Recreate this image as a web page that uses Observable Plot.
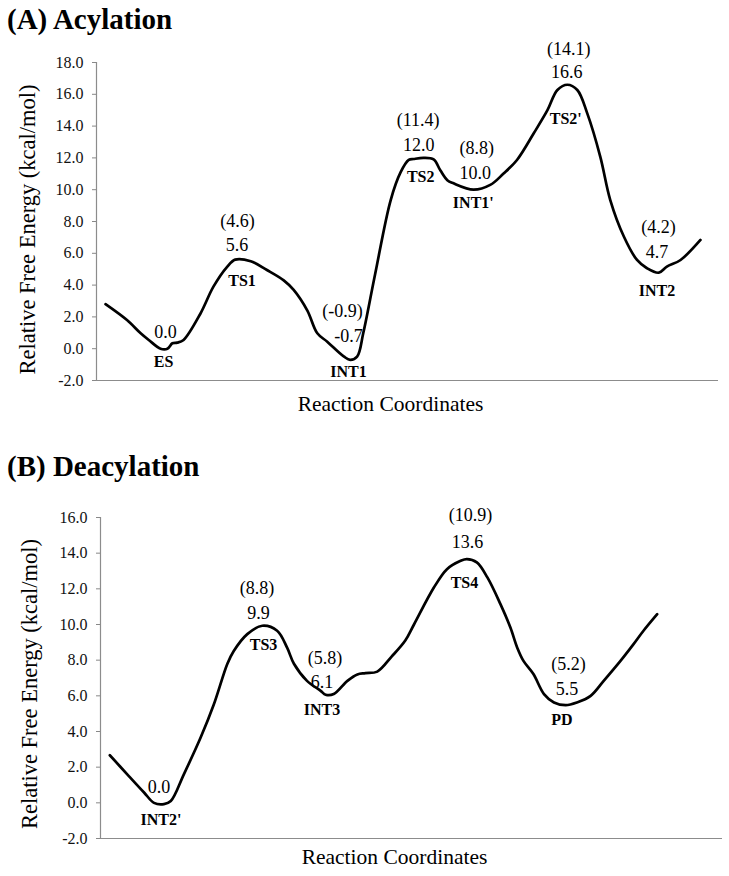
<!DOCTYPE html>
<html><head><meta charset="utf-8">
<script src="https://cdn.jsdelivr.net/npm/d3@7"></script>
<script src="https://cdn.jsdelivr.net/npm/@observablehq/plot@0.6"></script>
<style>
body{margin:0;background:#fff;}
#wrap{position:relative;width:729px;height:876px;font-family:"Liberation Serif","Times New Roman",Times,serif;color:#000;overflow:hidden;}
.title{position:absolute;left:7px;font-weight:bold;font-size:29px;line-height:29px;white-space:nowrap;}
.panel{position:absolute;left:0;}
svg text{font-family:"Liberation Serif","Times New Roman",Times,serif;}
</style></head><body>
<div id="wrap">
<div class="title" style="top:5px">(A) Acylation</div>
<div class="panel" id="pA" style="top:40px"></div>
<div class="title" style="top:452px">(B) Deacylation</div>
<div class="panel" id="pB" style="top:490px"></div>
</div>
<script>
// ---------- Panel A: Acylation profile (reaction coordinate, relative free energy) ----------
const acylCoord = [1.45,4.9,7.1,8.4,10.3,11.4,12.2,13.0,14.0,16.7,18.8,21.0,22.3,24.8,27.4,30.1,31.7,33.9,35.5,37.1,39.8,40.8,41.9,42.9,44.8,47.3,48.9,50.2,51.0,52.6,54.2,55.3,56.4,57.4,60.6,63.3,65.4,67.6,70.3,72.5,74.1,75.7,77.3,78.9,81.0,82.6,84.8,86.9,88.5,90.4,91.7,93.9,97.1];
const acylEnergy = [2.8,1.8,0.97,0.55,0.0,0.0,0.34,0.38,0.55,2.2,3.9,5.15,5.6,5.5,4.95,4.3,3.7,2.4,0.97,0.44,-0.5,-0.7,-0.5,1.0,4.7,9.35,11.1,11.87,11.93,12.0,11.9,11.2,10.6,10.4,10.0,10.3,11.0,11.87,13.55,15.0,16.27,16.6,16.27,14.8,12.07,9.35,7.04,5.58,5.06,4.78,5.16,5.58,6.84];
// stationary points
const acylNames = ["ES","TS1","INT1","TS2","INT1'","TS2'","INT2"];
const acylPointCoord = [11.1,22.6,40.5,51.8,60.9,75.6,90.1];
const acylG = [0.0,5.6,-0.7,12.0,10.0,16.6,4.7];
const acylAlt = [null,4.6,-0.9,11.4,8.8,14.1,4.2];
const acylTicks = [-2,0,2,4,6,8,10,12,14,16,18];

// ---------- Panel B: Deacylation profile ----------
const deacylCoord = [1.5,4.3,7.0,8.6,10.2,11.3,13.4,16.1,18.2,20.4,21.4,23.6,26.0,28.4,30.0,31.1,33.2,35.4,36.2,37.5,39.7,41.3,42.6,44.5,46.8,49.0,50.4,53.6,55.7,57.9,58.9,60.5,62.2,64.3,65.9,67.0,68.0,69.6,71.3,72.9,74.8,76.6,78.8,80.9,83.6,85.7,87.3,89.5];
const deacylEnergy = [2.67,1.6,0.58,0.0,-0.07,0.1,1.6,3.66,5.5,7.8,8.5,9.46,9.93,9.65,8.7,7.8,6.84,6.28,6.06,6.1,6.84,7.2,7.27,7.36,8.2,9.1,10.0,12.07,13.1,13.57,13.67,13.48,12.64,11.14,9.83,8.7,7.96,7.22,6.1,5.63,5.48,5.63,6.0,6.84,7.96,8.9,9.65,10.58];
const deacylNames = ["INT2'","TS3","INT3","TS4","PD"];
const deacylPointCoord = [9.4,25.4,35.6,59.0,75.0];
const deacylG = [0.0,9.9,6.1,13.6,5.5];
const deacylAlt = [null,8.8,5.8,10.9,5.2];
const deacylTicks = [-2,0,2,4,6,8,10,12,14,16];

// ---------- label layout (pixel offsets from each stationary point) ----------
const acylLayout = [
  {v:-16.5, a:0, ax:0, n:13.5, nx:-2},
  {v:-14, a:-38.5, ax:0.5, n:21, nx:5},
  {v:-24, a:-49, ax:-6, n:12, nx:0},
  {v:-12.5, a:-37.5, ax:-0.5, n:19, nx:2},
  {v:-16, a:-41, ax:1.5, n:13, nx:-2},
  {v:-12.5, a:-36, ax:2, n:34, nx:-1},
  {v:-22, a:-47, ax:1.5, n:16.5, nx:0}
];
const deacylLayout = [
  {v:-16, a:0, ax:0, n:17.5, nx:2},
  {v:-13.5, a:-38, ax:-1.5, n:19, nx:5},
  {v:-12, a:-35.5, ax:3, n:16, nx:0},
  {v:-18.5, a:-45, ax:3, n:23, nx:-3},
  {v:-16, a:-41, ax:1.5, n:15.5, nx:-5}
];

const FONT = "Liberation Serif";

function panel({coord, energy, names, pcoord, g, alt, layout, ticks, height, mt, mb, ml, mr, xlDy, ylDx, ylDy}) {
  const profile = coord.map((c, i) => ({c, e: energy[i]}));
  const pts = names.map((n, i) => ({n, c: pcoord[i], g: g[i], alt: alt[i]}));
  const labelMarks = pts.flatMap((p, i) => {
    const L = layout[i];
    const m = [
      Plot.text([p], {x: "c", y: "g", text: d => d.g.toFixed(1), dy: L.v, fontSize: 18, fontFamily: FONT, fill: "#000"}),
      Plot.text([p], {x: "c", y: "g", text: "n", dy: L.n, dx: L.nx, fontSize: 16, fontWeight: "bold", fontFamily: FONT, fill: "#000"})
    ];
    if (p.alt != null) m.push(Plot.text([p], {x: "c", y: "g", text: d => `(${d.alt.toFixed(1)})`, dy: L.a, dx: L.ax, fontSize: 18, fontFamily: FONT, fill: "#000"}));
    return m;
  });
  return Plot.plot({
    width: 729,
    height,
    marginTop: mt, marginBottom: mb, marginLeft: ml, marginRight: mr,
    style: {fontFamily: FONT, background: "white", overflow: "visible"},
    x: {domain: [0, 100], axis: null},
    y: {domain: [ticks[0], ticks[ticks.length - 1]], axis: null},
    marks: [
      Plot.axisY({ticks, tickFormat: d => d.toFixed(1), tickSize: 4, tickPadding: 9, stroke: "#888", fill: "#111", fontSize: 16, fontFamily: FONT, label: null}),
      Plot.ruleX([0], {stroke: "#8c8c8c", strokeWidth: 1.2}),
      Plot.ruleY([ticks[0]], {stroke: "#8c8c8c", strokeWidth: 1.2}),
      Plot.line(profile, {x: "c", y: "e", curve: "catmull-rom", stroke: "#000", strokeWidth: 2.7}),
      ...labelMarks,
      Plot.text(["Reaction Coordinates"], {frameAnchor: "bottom", dy: xlDy, dx: -17, fontSize: 21.5, fontFamily: FONT, fill: "#000"}),
      Plot.text(["Relative Free Energy (kcal/mol)"], {frameAnchor: "left", textAnchor: "middle", rotate: -90, dx: ylDx, dy: ylDy, fontSize: 22.5, fontFamily: FONT, fill: "#000"})
    ]
  });
}

document.getElementById("pA").appendChild(panel({
  coord: acylCoord, energy: acylEnergy, names: acylNames, pcoord: acylPointCoord, g: acylG, alt: acylAlt,
  layout: acylLayout, ticks: acylTicks, height: 400, mt: 22, mb: 60, ml: 96, mr: 11, xlDy: 30, ylDx: -69, ylDy: 8
}));
document.getElementById("pB").appendChild(panel({
  coord: deacylCoord, energy: deacylEnergy, names: deacylNames, pcoord: deacylPointCoord, g: deacylG, alt: deacylAlt,
  layout: deacylLayout, ticks: deacylTicks, height: 386, mt: 27, mb: 38, ml: 100, mr: 7, xlDy: 25, ylDx: -71, ylDy: 6
}));
</script>
</body></html>
